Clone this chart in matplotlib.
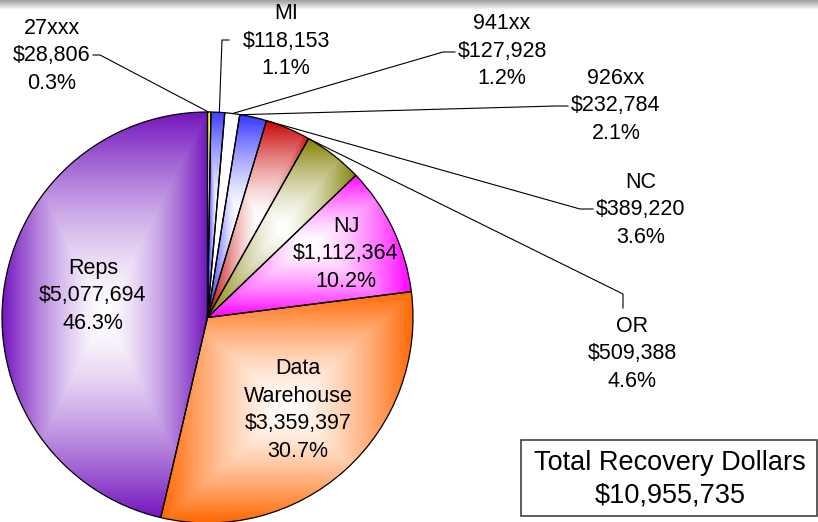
import numpy as np
import matplotlib
matplotlib.use('Agg')
from matplotlib import pyplot as plt
from matplotlib.patches import Rectangle
from matplotlib.colors import to_rgb

# slice data, clockwise from 12 o'clock
names = ['27xxx', 'MI', '941xx', '926xx', 'NC', 'OR', 'NJ', 'Data\nWarehouse', 'Reps']
dollars = [28806, 118153, 127928, 232784, 389220, 509388, 1112364, 3359397, 5077694]
colors = ['#FFFF00', '#3C3CFF', '#FFFFFF', '#3232FF', '#C80000',
          '#808000', '#FF00FF', '#FF6600', '#7314BE']
total_recovery = 10955735

W, H = 818, 522
FONT = 'Liberation Sans'

# label layout (pixel coords of the picture, y downwards)
label_xy = {'27xxx': (52, 56), 'MI': (286, 41), '941xx': (502, 51),
            '926xx': (616, 106), 'NC': (641, 210), 'OR': (632, 354),
            'NJ': (346, 254), 'Data\nWarehouse': (298, 410), 'Reps': (93, 296)}
# leader: (attach angle clockwise from top in deg, [points from label to elbow])
leaders = {'27xxx': (0.3, [(93, 55), (100, 55)]),
           'MI': (3.3, [(229, 40), (222, 40)]),
           '941xx': (7.0, [(455, 52), (443, 52)]),
           '926xx': (9.3, [(568, 106), (556, 106)]),
           'NC': (17.0, [(593, 209), (580, 209)]),
           'OR': (29.8, [(623, 308), (623, 294)])}


def _gradient_fill(ax, wedge, color, power=1.45):
    """Fill a wedge with white-centre rectangular gradient over its bbox"""
    cx, cy = wedge.center
    r = wedge.r
    th = np.radians(np.linspace(wedge.theta1, wedge.theta2, 200))
    xs = np.concatenate([[cx], cx + r * np.cos(th)])
    ys = np.concatenate([[cy], cy + r * np.sin(th)])
    x0, x1, y0, y1 = xs.min(), xs.max(), ys.min(), ys.max()
    nx = max(int(x1 - x0) * 2, 4)
    ny = max(int(y1 - y0) * 2, 4)
    gx, gy = np.meshgrid(np.linspace(-1, 1, nx), np.linspace(-1, 1, ny))
    t = np.clip(np.maximum(np.abs(gx), np.abs(gy)), 0, 1) ** power
    t = t[..., None]
    rgb = np.array([1.0, 1.0, 1.0]) * (1 - t) + np.array(to_rgb(color)) * t
    im = ax.imshow(rgb, extent=[x0, x1, y0, y1], origin='lower',
                   interpolation='bilinear', zorder=1, aspect='auto')
    im.set_clip_path(wedge)


fig = plt.figure(figsize=(W / 100, H / 100), dpi=100)
ax = fig.add_axes([0, 0, 1, 1])

center = (207.5, H - 317.5)
radius = 205.5
wedges, _ = ax.pie(dollars, startangle=90, counterclock=False,
                   center=center, radius=radius,
                   wedgeprops=dict(edgecolor='black', linewidth=0.9))
for w, c in zip(wedges, colors):
    _gradient_fill(ax, w, c)
    w.set_facecolor('none')
    w.set_zorder(2)

ax.axis('off')

total = sum(dollars)
for name, val in zip(names, dollars):
    txt = '%s\n$%s\n%.1f%%' % (name, format(val, ','), 100.0 * val / total)
    lx, ly = label_xy[name]
    ax.text(lx, H - ly, txt, ha='center', va='center', fontsize=15.5,
            family=FONT, linespacing=1.4, zorder=4)
    if name in leaders:
        ang, pts = leaders[name]
        a = np.radians(ang)
        rim = (center[0] + radius * np.sin(a), center[1] + radius * np.cos(a))
        px = [p[0] for p in pts] + [rim[0]]
        py = [H - p[1] for p in pts] + [rim[1]]
        ax.plot(px, py, color='black', lw=0.8, zorder=3)

# grey shadow band along the top edge
band = np.linspace(0.62, 1.0, 50)[:, None] * np.ones((50, 2))
ax.imshow(np.dstack([band] * 3), extent=[0, W, H - 10, H], origin='upper',
          aspect='auto', zorder=0)

# total box
ax.add_patch(Rectangle((521, H - 516), 296, 76, facecolor='white',
                       edgecolor='#404040', lw=1.2, zorder=3))
ax.text(670, H - 479, 'Total Recovery Dollars\n$%s' % format(total_recovery, ','),
        ha='center', va='center', fontsize=19.5, family=FONT,
        linespacing=1.3, zorder=4)

ax.set_xlim(0, W)
ax.set_ylim(0, H)
ax.set_aspect('auto')
fig.savefig('out.png', dpi=100)
